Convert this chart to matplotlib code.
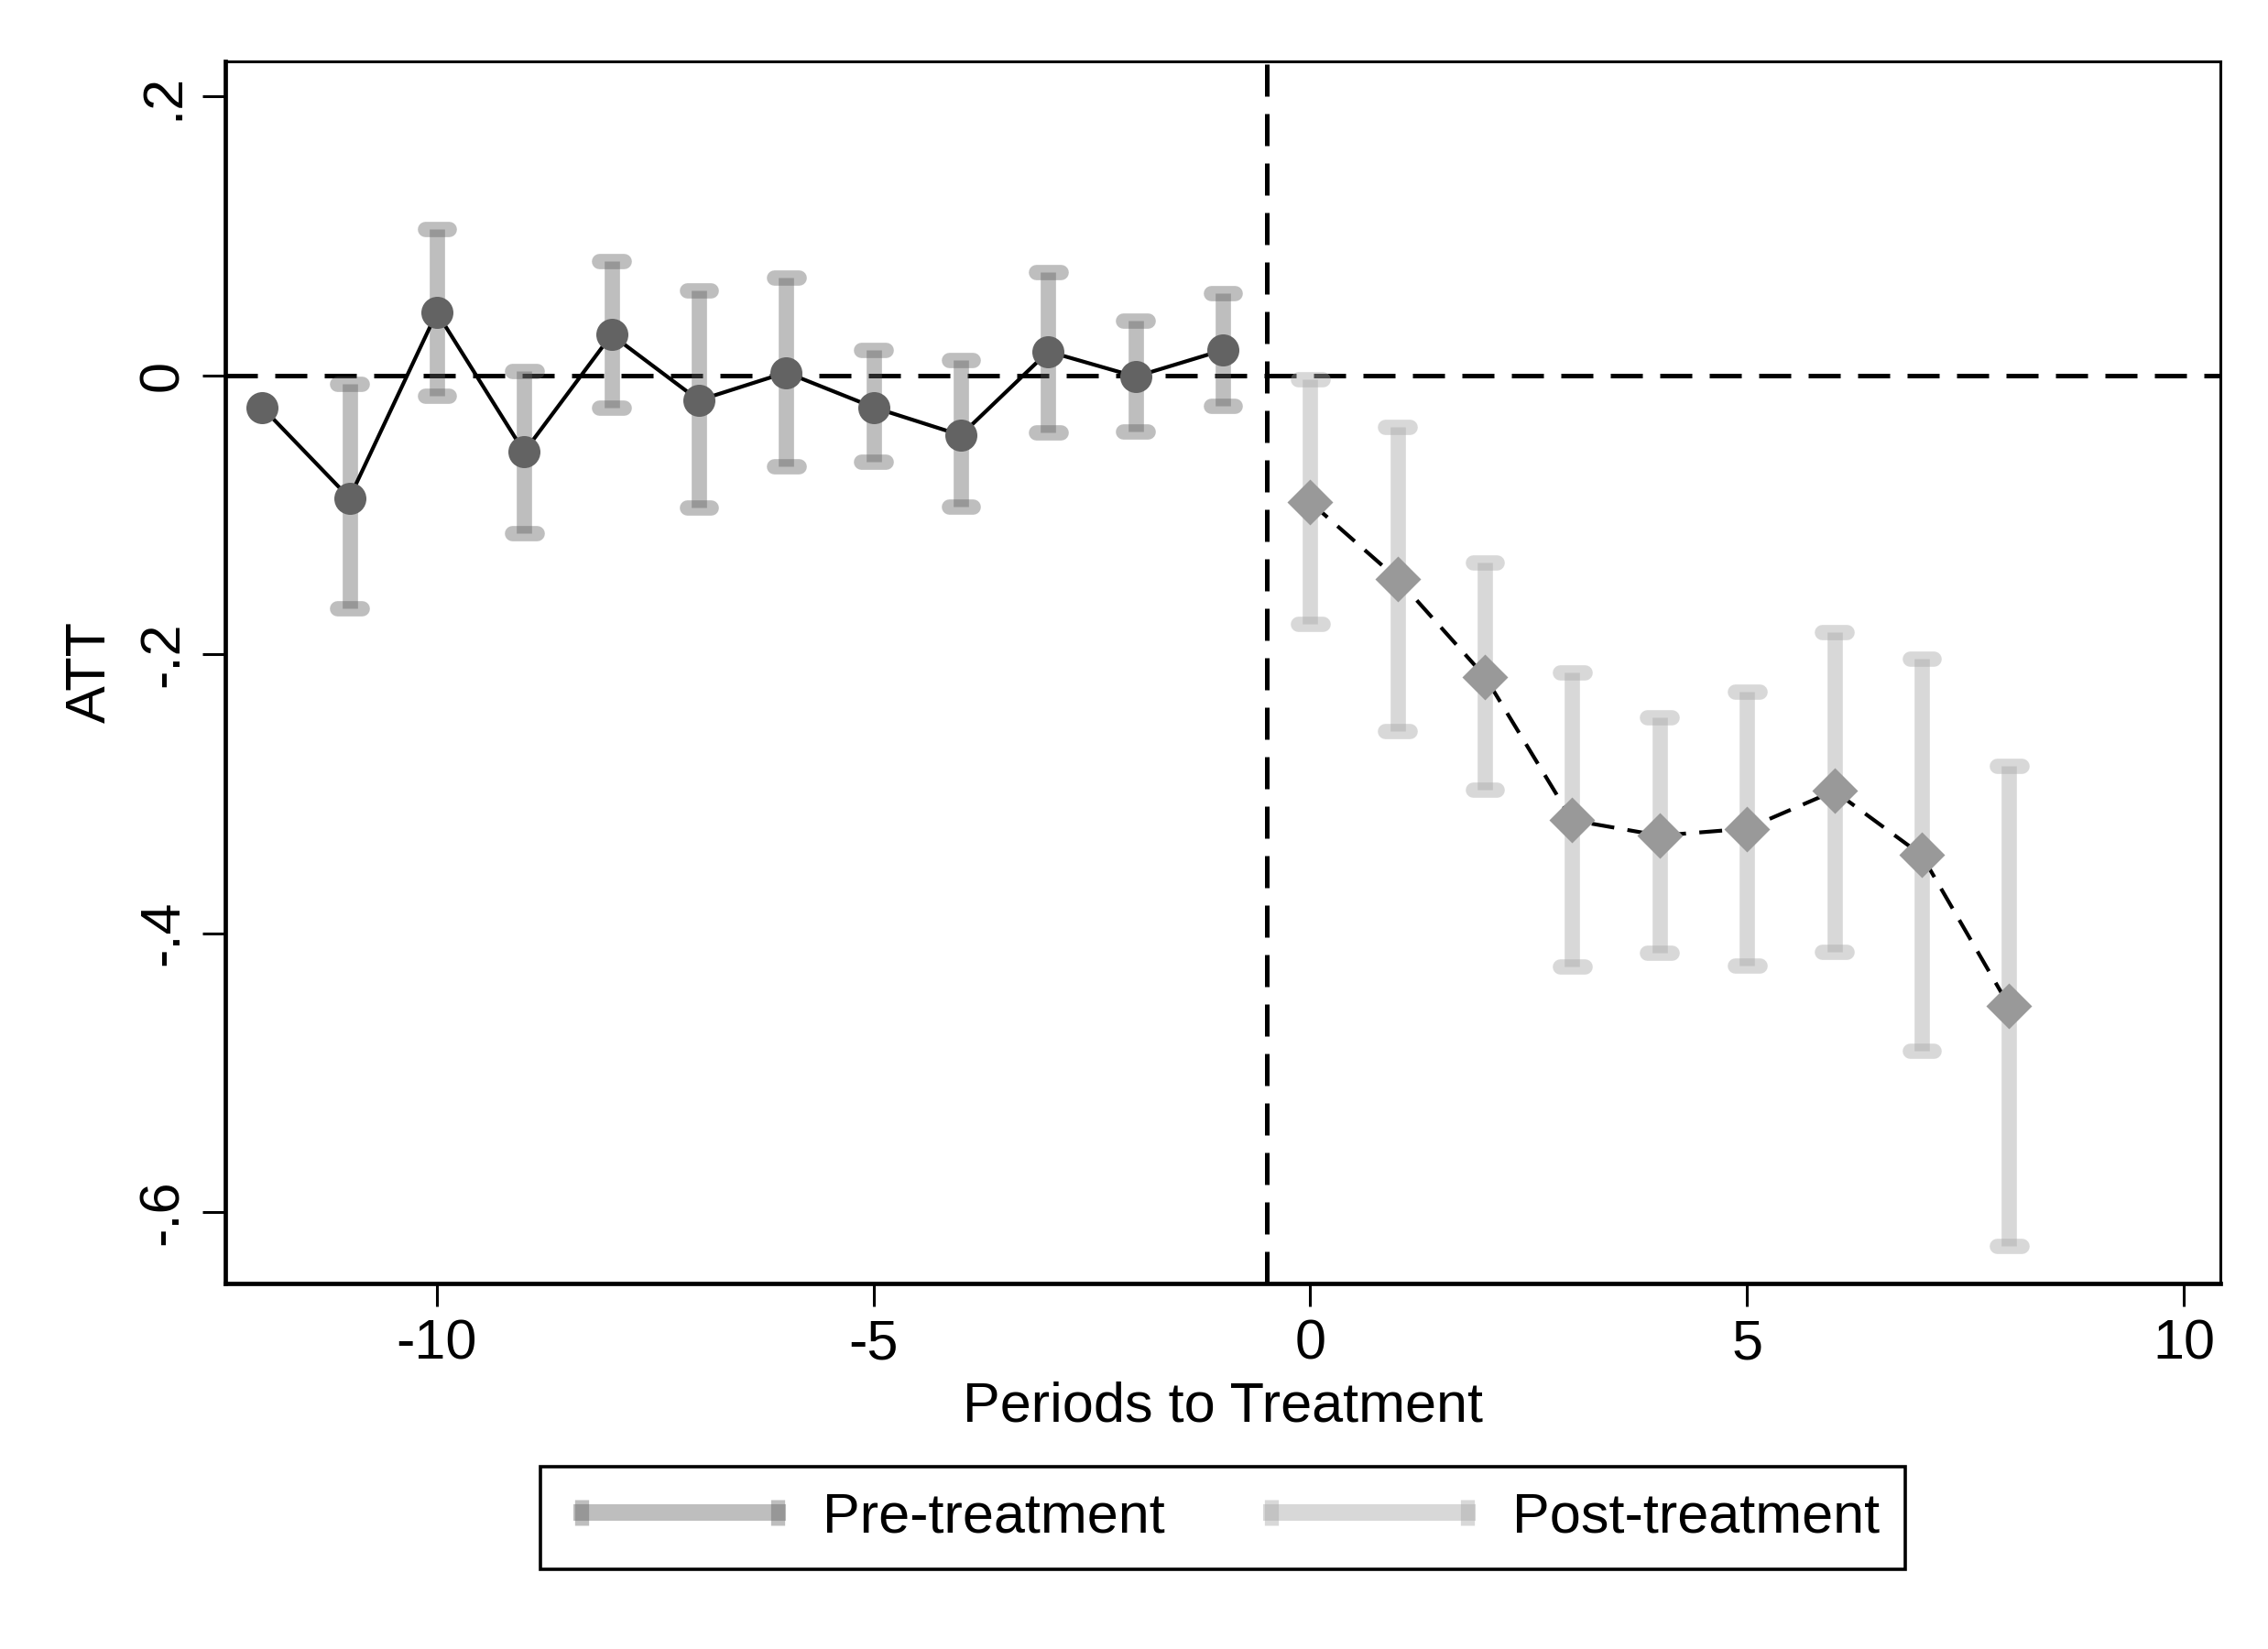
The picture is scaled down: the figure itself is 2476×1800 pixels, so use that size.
import matplotlib.pyplot as plt
from matplotlib.lines import Line2D

# ── data ─────────────────────────────────────────────────────────────────────
pre_x = [-12, -11, -10, -9, -8, -7, -6, -5, -4, -3, -2, -1]
pre_att = [-0.023, -0.088, 0.045, -0.055, 0.029, -0.018, 0.002, -0.023, -0.043, 0.017, -0.001, 0.018]
pre_ci_x = [-11, -10, -9, -8, -7, -6, -5, -4, -3, -2, -1]
pre_lo = [-0.167, -0.015, -0.113, -0.023, -0.095, -0.065, -0.062, -0.094, -0.041, -0.040, -0.022]
pre_hi = [-0.006, 0.105, 0.003, 0.082, 0.061, 0.070, 0.018, 0.011, 0.074, 0.039, 0.059]

post_x = [0, 1, 2, 3, 4, 5, 6, 7, 8]
post_att = [-0.091, -0.146, -0.216, -0.319, -0.330, -0.325, -0.298, -0.344, -0.452]
post_lo = [-0.178, -0.255, -0.297, -0.424, -0.414, -0.423, -0.413, -0.484, -0.624]
post_hi = [-0.003, -0.037, -0.134, -0.213, -0.245, -0.227, -0.184, -0.203, -0.280]

x_ticks = [-10, -5, 0, 5, 10]
y_ticks = [0.2, 0, -0.2, -0.4, -0.6]
y_tick_labels = ['.2', '0', '-.2', '-.4', '-.6']

plt.rcParams['font.family'] = ['Liberation Sans', 'DejaVu Sans']
FS = 22

fig = plt.figure(figsize=(12.38, 9), dpi=200)
ax = fig.add_axes([0.0994, 0.2217, 0.8796, 0.7411])

PRE_CI = '#616161'
POST_CI = '#aaaaaa'
CI_LW = 6.0
cap_half = 0.14


def draw_caps(xs, lo, hi, color, alpha):
    # Stata-style rcap: transparent bar plus rounded caps overlapping at ends
    ax.vlines(xs, lo, hi, color=color, alpha=alpha, lw=CI_LW, zorder=2)
    for x, l, h in zip(xs, lo, hi):
        for yv in (l, h):
            ax.plot([x - cap_half, x + cap_half], [yv, yv], color=color, alpha=alpha,
                    lw=CI_LW, solid_capstyle='round', zorder=2)


draw_caps(pre_ci_x, pre_lo, pre_hi, PRE_CI, 0.41)
draw_caps(post_x, post_lo, post_hi, POST_CI, 0.45)

# reference lines
ax.axhline(0, color='black', lw=1.8, ls=(0, (7, 3.8)), zorder=1)
ax.axvline(-0.5, color='black', lw=1.8, ls=(0, (7, 3.8)), zorder=1)

# point estimates
ax.plot(pre_x, pre_att, color='black', lw=1.5, zorder=3)
ax.plot(pre_x, pre_att, 'o', color='#636363', ms=12.6, mec='none', zorder=4)
ax.plot(post_x, post_att, color='black', lw=1.5, ls=(0, (6, 3.5)), zorder=3)
ax.plot(post_x, post_att, 'D', color='#999999', ms=12.5, mec='none', zorder=4)

ax.set_xlim(-12.42, 10.42)
ax.set_ylim(-0.651, 0.225)
ax.set_xticks(x_ticks)
ax.set_xticklabels([str(v) for v in x_ticks])
ax.set_yticks(y_ticks)
ax.set_yticklabels(y_tick_labels, rotation=90, va='center')
ax.tick_params(direction='out', length=9, width=1.1, labelsize=FS, pad=5)
for s in ax.spines.values():
    s.set_linewidth(1.1)
ax.spines['left'].set_linewidth(1.7)
ax.spines['bottom'].set_linewidth(1.7)

ax.set_xlabel('Periods to Treatment', fontsize=FS, labelpad=4)
ax.set_ylabel('ATT', fontsize=FS, labelpad=8)

handles = [
    Line2D([], [], color=PRE_CI, alpha=0.41, lw=6.5, marker='|', ms=10, mew=5.5),
    Line2D([], [], color=POST_CI, alpha=0.45, lw=6.5, marker='|', ms=10, mew=5.5),
]
leg = fig.legend(handles, ['Pre-treatment', 'Post-treatment'], loc='center',
                 bbox_to_anchor=(0.539, 0.0794), ncol=2, numpoints=2, fontsize=FS,
                 handlelength=4.1, handletextpad=0.5, columnspacing=1.6,
                 borderpad=0.45, fancybox=False, edgecolor='black', framealpha=1)
leg.get_frame().set_linewidth(1.3)

plt.savefig('out.png', dpi=200)
plt.close()
